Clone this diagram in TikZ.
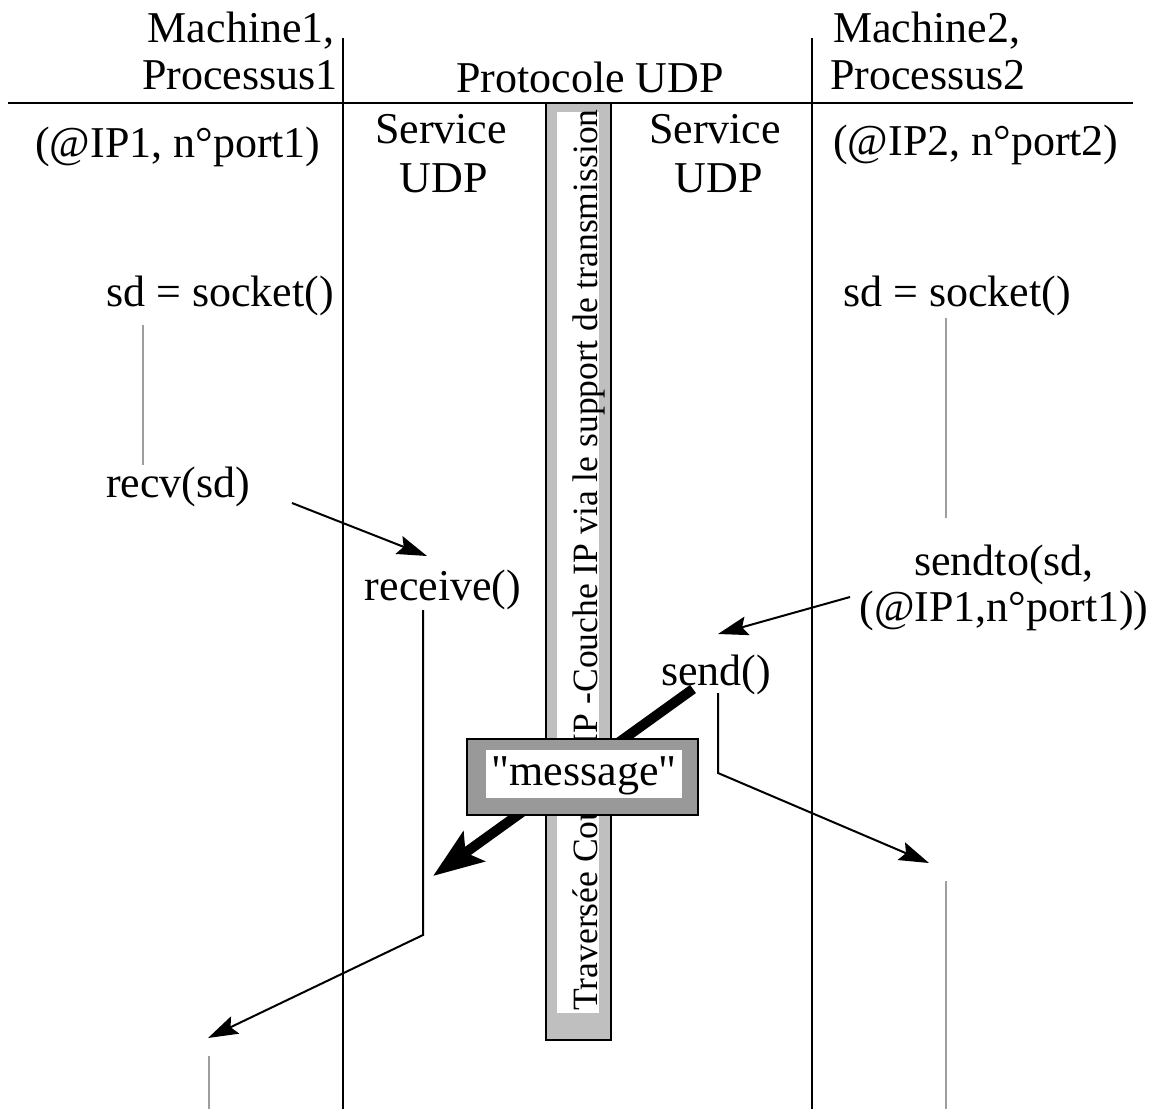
\documentclass[tikz,border=0pt]{standalone}
\usepackage{fontspec}
\setmainfont{Liberation Serif}[Ligatures=TeXOff]
\usetikzlibrary{arrows.meta}
\begin{document}
\begin{tikzpicture}[x=1pt,y=-1pt,
  txt/.style={inner sep=0pt, font=\fontsize{44}{48}\selectfont},
  ln/.style={line width=2pt},
  arr/.style={line width=2pt, -{Stealth[length=30pt,width=19pt,inset=5pt]}},
  life/.style={line width=2.5pt, draw=black!38},
  bigarr/.style={line width=10pt, -{Stealth[length=50pt,width=36pt,inset=10pt]}},
]
\useasboundingbox (0,0) rectangle (1160,1109);
\fill[white] (0,0) rectangle (1160,1109);

% frame lines
\coordinate (hl) at (8,103);   \coordinate (hr) at (1133,103);
\coordinate (v1t) at (343,38); \coordinate (v1b) at (343,1109);
\coordinate (v2t) at (812,38); \coordinate (v2b) at (812,1109);
\draw[ln] (hl) -- (hr);
\draw[ln] (v1t) -- (v1b);
\draw[ln] (v2t) -- (v2b);

% gray lifelines
\coordinate (g1a) at (143,325); \coordinate (g1b) at (143,465);
\coordinate (g2a) at (946,318); \coordinate (g2b) at (946,518);
\coordinate (g3a) at (946,881); \coordinate (g3b) at (946,1109);
\coordinate (g4a) at (209,1056); \coordinate (g4b) at (209,1109);
\draw[life] (g1a) -- (g1b);
\draw[life] (g2a) -- (g2b);
\draw[life] (g3a) -- (g3b);
\draw[life] (g4a) -- (g4b);

% transmission bar
\draw[line width=2pt, fill=black!25] (546,103) rectangle (611,1040);
\fill[white] (557,112) rectangle (599,1013);
\node[inner sep=0pt, rotate=90, font=\fontsize{35.6}{40}\selectfont, anchor=base] (trav) at (597,560)
  {Traversée Couche IP -Couche IP via le support de transmission};

% headers
\node[txt, anchor=base east] (m1) at (335,42) {Machine1,};
\node[txt, anchor=base east] (p1) at (338,89) {Processus1};
\node[txt, anchor=base west] (ip1) at (35,157) {(@IP1, n°port1)};
\node[txt, anchor=base] (proto) at (590,92) {Protocole UDP};
\node[txt, anchor=base] (svc1a) at (441,143) {Service};
\node[txt, anchor=base] (svc1b) at (444,192) {UDP};
\node[txt, anchor=base] (svc2a) at (715,143) {Service};
\node[txt, anchor=base] (svc2b) at (719,192) {UDP};
\node[txt, anchor=base west] (m2) at (833,42) {Machine2,};
\node[txt, anchor=base west] (p2) at (830,89) {Processus2};
\node[txt, anchor=base west] (ip2) at (833,155) {(@IP2, n°port2)};

% calls
\node[txt, anchor=base west] (sock1) at (106,306) {sd = socket()};
\node[txt, anchor=base west] (sock2) at (843,306) {sd = socket()};
\node[txt, anchor=base west] (recv) at (106,497) {recv(sd)};
\node[txt, anchor=base] (rcv) at (443,600) {receive()};
\node[txt, anchor=base] (sendtoa) at (1004,575) {sendto(sd,};
\node[txt, anchor=base] (sendtob) at (1004,621) {(@IP1,n°port1))};
\node[txt, anchor=base] (send) at (716,685) {send()};

% connectors
\coordinate (r0) at (292,503);  \coordinate (r1) at (427,556);
\draw[arr] (r0) -- (r1);
\coordinate (c0) at (423,610); \coordinate (c1) at (423,935); \coordinate (c2) at (208,1038);
\draw[arr] (c0) -- (c1) -- (c2);
\coordinate (s0) at (850,597); \coordinate (s1) at (718,634);
\draw[arr] (s0) -- (s1);
\coordinate (d0) at (718,693); \coordinate (d1) at (718,773); \coordinate (d2) at (929,863);
\draw[arr] (d0) -- (d1) -- (d2);

% message crossing
\coordinate (mstart) at (693,689); \coordinate (mend) at (433,876);
\draw[bigarr] (mstart) -- (mend);
\draw[line width=2pt, fill=black!40] (467,739) rectangle (698,815);
\fill[white] (486,750) rectangle (682,798);
\node[txt, anchor=base] (msg) at (584,785) {"message"};
\end{tikzpicture}
\end{document}
